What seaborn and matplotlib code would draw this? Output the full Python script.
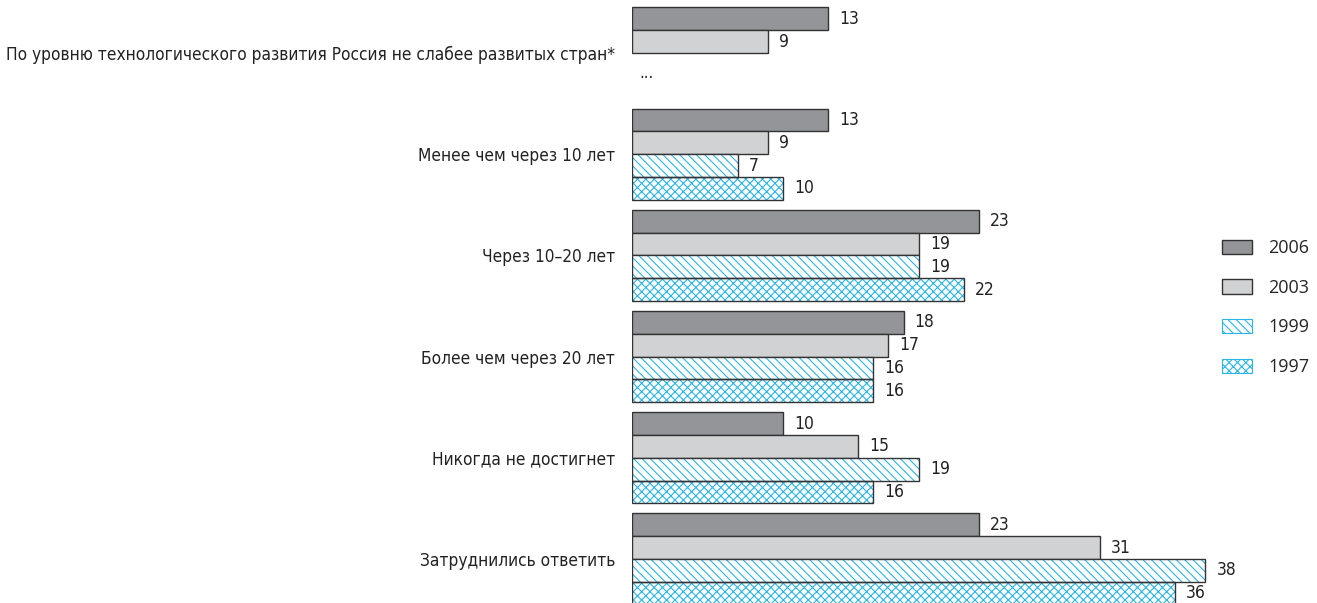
import numpy as np
import pandas as pd
import matplotlib
matplotlib.use("Agg")
import matplotlib.pyplot as plt
import matplotlib.patches as mpatches
from matplotlib.font_manager import FontProperties
import seaborn as sns

categories = [
    "По уровню технологического развития Россия не слабее развитых стран*",
    "Менее чем через 10 лет",
    "Через 10–20 лет",
    "Более чем через 20 лет",
    "Никогда не достигнет",
    "Затруднились ответить",
]
years = ["2006", "2003", "1999", "1997"]
v2006 = [13, 13, 23, 18, 10, 23]
v2003 = [9, 9, 19, 17, 15, 31]
v1999 = [np.nan, 7, 19, 16, 19, 38]
v1997 = [np.nan, 10, 22, 16, 16, 36]

colors = {"2006": "#939598", "2003": "#d1d2d4", "1999": "white", "1997": "white"}
hatches = {"2006": None, "2003": None, "1999": "\\\\\\\\", "1997": "xxxx"}
cyan = "#29b5e8"
edge = "#333333"


def build_frame():
    rows = []
    for yr, vals in zip(years, [v2006, v2003, v1999, v1997]):
        for cat, v in zip(categories, vals):
            rows.append({"category": cat, "year": yr, "value": v})
    return pd.DataFrame(rows)


def outline(ax, p):
    # dark outline drawn on top, because the hatch takes the edge colour
    r = mpatches.Rectangle(p.get_xy(), p.get_width(), p.get_height(), fill=False,
                           edgecolor=edge, linewidth=1.0, zorder=p.get_zorder() + 0.1)
    ax.add_patch(r)


def main():
    sns.set_style("white")
    plt.rcParams["font.family"] = ["DejaVu Sans"]
    plt.rcParams["font.stretch"] = "condensed"
    plt.rcParams["hatch.linewidth"] = 0.8

    df = build_frame()
    fig = plt.figure(figsize=(13.17, 6.03), dpi=100)
    ax = fig.add_axes([632 / 1317, 0, 685 / 1317, 1])

    sns.barplot(data=df, y="category", x="value", hue="year", hue_order=years,
                order=categories, orient="h", width=0.9, ax=ax, legend=False,
                palette=colors, edgecolor=edge, linewidth=1.0)

    for yr, cont in zip(years, ax.containers):
        for p in cont.patches:
            p.set_facecolor(colors[yr])
            if hatches[yr]:
                p.set_hatch(hatches[yr])
                p.set_edgecolor(cyan)
                p.set_linewidth(0)
                if not np.isnan(p.get_width()):
                    outline(ax, p)
        labels = ["" if np.isnan(w) else f"{w:.0f}" for w in cont.datavalues]
        ax.bar_label(cont, labels=labels, padding=8, fontsize=12.5, color="#222222")

    # missing data marker for the first group
    ax.text(0.5, 0.25, "...", va="baseline", ha="left", fontsize=12, color="#222222")

    ax.set_xlim(0, 45.4)
    ax.set_ylim(5.435, -0.524)
    ax.set_xlabel("")
    ax.set_ylabel("")
    ax.set_xticks([])
    ax.tick_params(axis="y", length=0, pad=12, labelsize=12.4, labelcolor="#222222")
    for s in ax.spines.values():
        s.set_visible(False)

    handles = []
    for yr in years:
        if hatches[yr]:
            h = mpatches.Patch(facecolor="white", edgecolor=cyan, linewidth=0.8,
                               hatch=hatches[yr], label=yr)
        else:
            h = mpatches.Patch(facecolor=colors[yr], edgecolor=edge, linewidth=1.0,
                               label=yr)
        handles.append(h)
    legend_font = FontProperties(family=["Open Sans", "DejaVu Sans"], stretch="normal", size=13)
    fig.legend(handles=handles, loc="center left", bbox_to_anchor=(1222 / 1317, 0.49),
               frameon=False, labelspacing=1.2, handlelength=1.65,
               handleheight=0.85, handletextpad=0.9, borderpad=0, borderaxespad=0,
               prop=legend_font)

    fig.savefig("out.png", dpi=100)


if __name__ == "__main__":
    main()
